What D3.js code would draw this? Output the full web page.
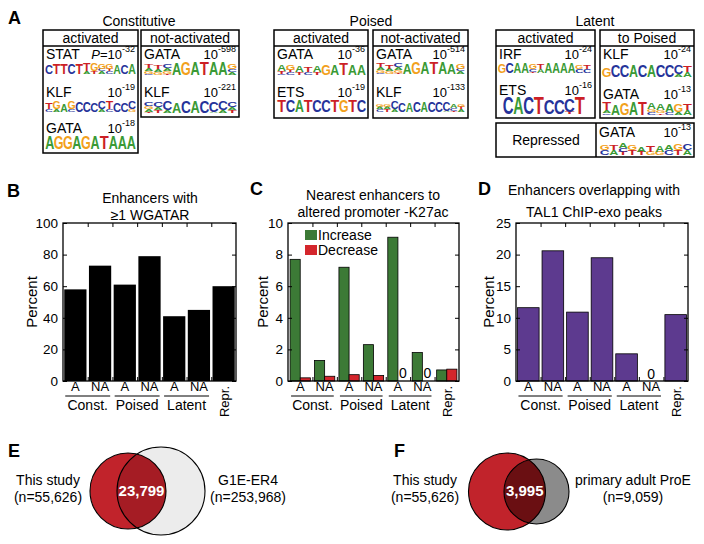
<!DOCTYPE html>
<html><head><meta charset="utf-8">
<script src="https://cdn.jsdelivr.net/npm/d3@7"></script>
<style>body{margin:0;background:#fff}svg{display:block}text{font-family:'Liberation Sans',Arial,Helvetica,sans-serif}</style>
</head><body><svg id="c" width="704" height="544"></svg>
<script>
// ---------------- DATA ----------------
const categories = ["A","NA","A","NA","A","NA","Repr."];
const groupLabels = ["Const.","Poised","Latent"];
const wgatarPercent = [58,73,61,79,41,45,60];
const k27Increase = [7.7,1.3,7.2,2.3,9.1,1.8,0.7];
const k27Decrease = [0.2,0.3,0.4,0.35,0,0,0.75];
const tal1Percent = [11.6,20.6,10.9,19.5,4.3,0,10.5];
const ticksB = [0,20,40,60,80,100];
const ticksC = [0,2,4,6,8,10];
const ticksD = [0,5,10,15,20,25];
const zeroLabelsC = [4,5];
const zeroLabelsD = [5];
const legendC = ["Increase","Decrease"];
const titleB = ["Enhancers with","\u22651 WGATAR"];
const titleC = ["Nearest enhancers to","altered promoter -K27ac"];
const titleD = ["Enhancers overlapping with","TAL1 ChIP-exo peaks"];

const motifClasses = ["Constitutive","Poised","Latent"];
const motifHeaders = ["activated","not-activated","activated","not-activated","activated","to Poised"];
// motif logos: columns separated by spaces; letters top->bottom with height (tenths)
const motifNames = ["STAT","KLF","GATA","GATA","KLF","GATA","ETS","GATA","KLF","IRF","ETS","KLF","GATA","GATA"];
const motifExponents = ["-32","-19","-18","-598","-221","-36","-19","-514","-133","-24","-16","-24","-13","-13"];
const motifLogos = [
 "C7 T8 T8 C8 T8 T6a2 G6t2 G4c2a2 G4t2c2 A7 C7 A8",
 "T5c2 G6a2 A6 G6c2 C8 C8 C7 C6a2 T6c2 C7 C7 C6g2",
 "A9 G9 G9 A9 G9 A9 T9 A9 A9 A9",
 "T3a2g2c1 T3a2g2 C3a2g2t1 A8 G9 A9 T9 A9 A9 G4c2a2",
 "C3g2a2t1 C4a2t2 C6a2 A7 C8 A8 C8 C7a1 C6a2 C4a2t2",
 "A5t2c1 G4t2c2 A5t2 T4c2 A5t2 G8 A8 T9 A8 A8",
 "T9 C9 A9 T9 C9 C9 T9 G9 T9 C9",
 "T3a2g2c1 T3a2g2 C3a2g2t1 A8 G9 A9 T9 A9 A8 G4c2a2",
 "G2a2c2 G2a2t2 C6a2 C7 A7 C8 A8 C8 C8 C7a1 A3c2t1 G2t2a2",
 "G7 C8 A8 A8 G4c2t1 T4a3 A8 A8 A8 A8 G3c3 T3c3",
 "C9 A9 C9 T9 C8 C8 C7t1 T9",
 "G6 C8 C8 A8 C8 A8 C8 C8 C6a2 T4a3",
 "T5a2c1 A7 G8 A9 T9 A4g2c2 A4g2t1 A5c2 G5a2 T4a3",
 "G3c3 T3a3 A3c2t2 G3t3 A3t2 T4g2 A4g2 A3c3 G4t3 C4a3"
];
const repressedLabel = "Repressed";

const vennE = {left:["This study","(n=55,626)"], right:["G1E-ER4","(n=253,968)"], overlap:"23,799"};
const vennF = {left:["This study","(n=55,626)"], right:["primary adult ProE","(n=9,059)"], overlap:"3,995"};

// ---------------- DRAW ----------------
const svg = d3.select("#c");
const FF = "'Liberation Sans', Arial, Helvetica, sans-serif";
const letterColor = {A:"#3a9a35", C:"#26339a", G:"#f2a11c", T:"#cc1f26"};
const letterInk = {A:0.70, C:0.66, G:0.70, T:0.60};

function txt(x,y,s,size,anchor,extra){
  const t = svg.append("text").attr("x",x).attr("y",y).attr("font-size",size)
    .attr("text-anchor",anchor||"start").attr("fill","#000").text(s);
  if (extra) extra(t);
  return t;
}
function panelLetter(x,y,s){ txt(x,y,s,18,"start",t=>t.attr("font-weight","bold")); }

// ---- Panel A ----
panelLetter(8,24,"A");
const classCenters = [139,371,595];
motifClasses.forEach((c,i)=>txt(classCenters[i],26,c,14,"middle"));
const boxes = [[43,138,30,153],[141,239,30,117],[274,368,30,118],[373,468,30,118],[496,595,30,118],[600,694,30,118]];
boxes.forEach((b,i)=>{
  svg.append("rect").attr("x",b[0]).attr("y",b[2]).attr("width",b[1]-b[0]).attr("height",b[3]-b[2])
    .attr("fill","none").attr("stroke","#000").attr("stroke-width",1.5);
  svg.append("line").attr("x1",b[0]).attr("x2",b[1]).attr("y1",46).attr("y2",46).attr("stroke","#000").attr("stroke-width",1.5);
  txt((b[0]+b[1])/2,43,motifHeaders[i],14,"middle");
});
// repressed box
svg.append("rect").attr("x",496).attr("y",123).attr("width",198).attr("height",34)
  .attr("fill","none").attr("stroke","#000").attr("stroke-width",1.5);
svg.append("line").attr("x1",596).attr("x2",596).attr("y1",123).attr("y2",157).attr("stroke","#000").attr("stroke-width",1.5);
txt(546,145,repressedLabel,14,"middle");

// slot layout per motif: [boxX0, boxX1, labelBaseline, logoX0, logoX1, logoBottom, logoHeight]
const slots = [
 [43,138,59, 45,136,74,12],
 [43,138,97, 45,136,112,12],
 [43,138,133,45,136,149,13],
 [141,239,59,144,237,75,13],
 [141,239,97,144,237,113,13],
 [274,368,59,277,366,75,12],
 [274,368,97,277,366,112,12],
 [373,468,59,376,465,74,12],
 [373,468,97,376,465,112,12],
 [496,595,59,498,591,73,12],
 [496,595,95,503,585,114,17],
 [600,694,59,602,692,77,14],
 [600,694,99,602,692,115,14],
 [596,694,137,600,692,155,15]
];
function drawLogo(logo,x0,x1,yb,h){
  const cols = logo.split(" ");
  const xs = d3.scaleBand().domain(d3.range(cols.length)).range([x0,x1]).padding(0.03);
  const g = svg.append("g").attr("class","logo");
  cols.forEach((tok,i)=>{
    const parts = [...tok.matchAll(/([ACGTacgt])(\d)/g)].map(m=>({l:m[1].toUpperCase(),v:+m[2]}));
    let y = yb;
    const cx = xs(i)+xs.bandwidth()/2;
    for (let k=parts.length-1;k>=0;k--){
      const hh = parts[k].v/10*h/0.9;
      const sx = xs.bandwidth()/(letterInk[parts[k].l]*10);
      const sy = hh/7.3;
      g.append("text").attr("transform",`translate(${cx},${y}) scale(${sx},${sy})`)
        .attr("font-size",10).attr("font-weight","bold").attr("text-anchor","middle")
        .attr("fill",letterColor[parts[k].l]).text(parts[k].l);
      y -= hh;
    }
  });
}
motifNames.forEach((n,i)=>{
  const s = slots[i];
  const bx0 = s[0], bx1 = s[1];
  txt(bx0+3,s[2],n,14,"start");
  const t = txt(bx1-3,s[2],"",13,"end");
  if (i===0) t.append("tspan").attr("font-style","italic").text("P");
  if (i===0) t.append("tspan").text("=");
  t.append("tspan").text("10");
  t.append("tspan").attr("font-size",9).attr("dy",-7).text(motifExponents[i]);
  drawLogo(motifLogos[i],s[3],s[4],s[5],s[6]);
});

// ---- Bar panels ----
const yTop = 223, yBot = 381;
function axesFrame(L,R,y,ticks){
  const gl = svg.append("g").attr("transform",`translate(${L},0)`)
    .call(d3.axisLeft(y).tickValues(ticks).tickSize(-4).tickPadding(5));
  gl.select(".domain").remove();
  gl.selectAll("text").attr("font-size",13.5).attr("font-family",FF).attr("fill","#000");
  const gr = svg.append("g").attr("transform",`translate(${R},0)`)
    .call(d3.axisRight(y).tickValues(ticks).tickSize(-4).tickFormat(""));
  gr.select(".domain").remove();
  const xb = d3.scaleLinear().domain([0,7]).range([L,R]);
  const gt = svg.append("g").attr("transform",`translate(0,${yTop})`)
    .call(d3.axisTop(xb).tickValues([1,2,3,4,5,6]).tickSize(-4).tickFormat(""));
  gt.select(".domain").remove();
  const gb = svg.append("g").attr("transform",`translate(0,${yBot})`)
    .call(d3.axisBottom(xb).tickValues([1,2,3,4,5,6]).tickSize(-4).tickFormat(""));
  gb.select(".domain").remove();
  svg.selectAll(".tick line").attr("stroke","#000");
  svg.append("rect").attr("x",L).attr("y",yTop).attr("width",R-L).attr("height",yBot-yTop)
    .attr("fill","none").attr("stroke","#000").attr("stroke-width",1.3);
}
function xLabels(x){
  categories.forEach((c,i)=>{
    const cx = x(i)+x.bandwidth()/2;
    if (i<6) txt(cx,391,c,13,"middle");
    else txt(cx+5,386,c,13,"end",t=>t.attr("transform",`rotate(-90,${cx+5},386)`));
  });
  groupLabels.forEach((g,k)=>{
    const a = x(2*k)+1, b = x(2*k+1)+x.bandwidth()-1;
    svg.append("line").attr("x1",a).attr("x2",b).attr("y1",396).attr("y2",396).attr("stroke","#000").attr("stroke-width",1);
    txt((a+b)/2,410,g,14,"middle");
  });
}
function ylabel(x){ txt(x,302,"Percent",15,"middle",t=>t.attr("transform",`rotate(-90,${x},302)`)); }

// B
panelLetter(7,197,"B");
txt(150,203,titleB[0],14,"middle"); txt(150,220,titleB[1],14,"middle");
{
  const L=63,R=236;
  const y = d3.scaleLinear().domain([0,100]).range([yBot,yTop]);
  const x = d3.scaleBand().domain(d3.range(7)).range([L,R]).paddingInner(0.1).paddingOuter(0.05);
  svg.append("g").selectAll("rect").data(wgatarPercent).join("rect")
    .attr("x",(d,i)=>x(i)).attr("width",x.bandwidth()).attr("y",d=>y(d)).attr("height",d=>y(0)-y(d))
    .attr("fill","#000");
  axesFrame(L,R,y,ticksB);
  xLabels(x);
  ylabel(37);
}
// C
panelLetter(250,195,"C");
txt(373,200,titleC[0],14,"middle"); txt(373,217,titleC[1],14,"middle");
{
  const L=288,R=459;
  const y = d3.scaleLinear().domain([0,10]).range([yBot,yTop]);
  const x = d3.scaleBand().domain(d3.range(7)).range([L,R]).paddingInner(0.17).paddingOuter(0.085);
  const xs = d3.scaleBand().domain([0,1]).range([0,x.bandwidth()]);
  const cols = ["#3c7a36","#d4262c"];
  [k27Increase,k27Decrease].forEach((arr,s)=>{
    svg.append("g").selectAll("rect").data(arr).join("rect")
      .attr("x",(d,i)=>x(i)+xs(s)).attr("width",xs.bandwidth()).attr("y",d=>y(d)).attr("height",d=>y(0)-y(d))
      .attr("fill",cols[s]).attr("stroke",d=>d>0?"#000":"none").attr("stroke-width",0.8);
  });
  zeroLabelsC.forEach(i=>txt(x(i)+xs(1)+xs.bandwidth()/2,378,"0",14,"middle"));
  axesFrame(L,R,y,ticksC);
  xLabels(x);
  ylabel(268);
  legendC.forEach((l,i)=>{
    svg.append("rect").attr("x",305).attr("y",230+i*15).attr("width",12).attr("height",10).attr("fill",cols[i]);
    txt(318,240+i*15,l,14,"start");
  });
}
// D
panelLetter(478,195,"D");
txt(594,195,titleD[0],14,"middle"); txt(594,217,titleD[1],14,"middle");
{
  const L=516,R=688;
  const y = d3.scaleLinear().domain([0,25]).range([yBot,yTop]);
  const x = d3.scaleBand().domain(d3.range(7)).range([L,R]).paddingInner(0.12).paddingOuter(0.06);
  svg.append("g").selectAll("rect").data(tal1Percent).join("rect")
    .attr("x",(d,i)=>x(i)).attr("width",x.bandwidth()).attr("y",d=>y(d)).attr("height",d=>y(0)-y(d))
    .attr("fill","#5d3a8f").attr("stroke",d=>d>0?"#000":"none").attr("stroke-width",0.8);
  zeroLabelsD.forEach(i=>txt(x(i)+x.bandwidth()/2,379,"0",14,"middle"));
  axesFrame(L,R,y,ticksD);
  xLabels(x);
  ylabel(494);
}

// ---- Venn panels ----
function venn(v, c1, c2, fill1, fill2, fillI, id, lx, rx){
  svg.append("circle").attr("cx",c2[0]).attr("cy",c2[1]).attr("r",c2[2]).attr("fill",fill2);
  svg.append("circle").attr("cx",c1[0]).attr("cy",c1[1]).attr("r",c1[2]).attr("fill",fill1);
  svg.append("clipPath").attr("id",id).append("circle").attr("cx",c2[0]).attr("cy",c2[1]).attr("r",c2[2]);
  svg.append("circle").attr("cx",c1[0]).attr("cy",c1[1]).attr("r",c1[2]).attr("fill",fillI).attr("clip-path",`url(#${id})`);
  [c1,c2].forEach(c=>svg.append("circle").attr("cx",c[0]).attr("cy",c[1]).attr("r",c[2]).attr("fill","none").attr("stroke","#000").attr("stroke-width",1.1));
  const ix = (c1[0]+c1[2] + c2[0]-c2[2])/2;
  txt(ix,496,v.overlap,15,"middle",t=>t.attr("font-weight","bold").attr("fill","#fff"));
  txt(lx,485,v.left[0],14,"middle"); txt(lx,502,v.left[1],14,"middle");
  txt(rx,485,v.right[0],14,"middle"); txt(rx,502,v.right[1],14,"middle");
}
panelLetter(8,457,"E");
venn(vennE,[128,491,38],[161,491,44],"#c1232b","#ececec","#a51c24","clipE",48,248);
panelLetter(394,457,"F");
venn(vennF,[507,491.5,38.5],[536.5,491.5,32.5],"#c1232b","#8b8b8b","#6a0f12","clipF",425,633);
</script></body></html>
